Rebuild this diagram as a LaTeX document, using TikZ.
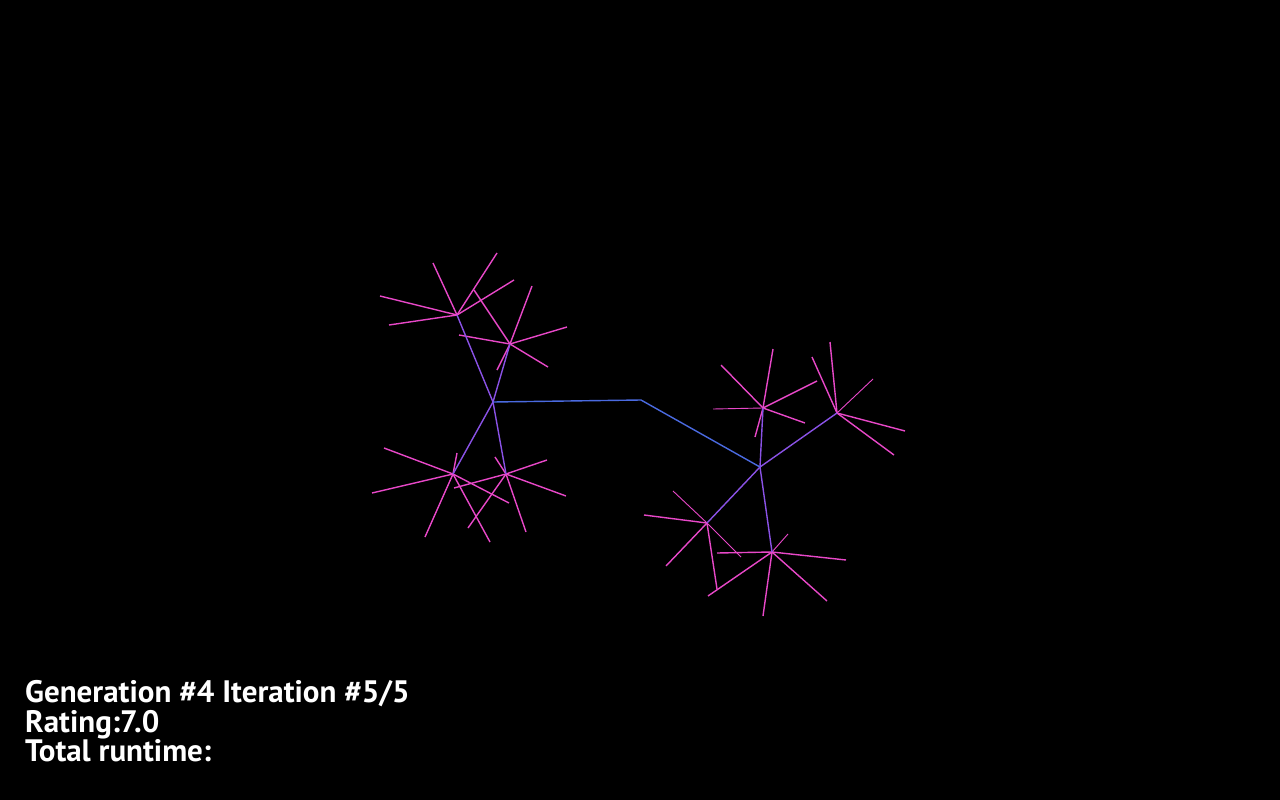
\documentclass[tikz,border=0pt]{standalone}
\usepackage{fontspec}
\setmainfont{PT Sans}
\begin{document}
\begin{tikzpicture}[x=1pt,y=-1pt,
  bridge/.style={draw=bluel,line width=1.4pt},
  branch/.style={draw=purpl,line width=1.4pt},
  leaf/.style={draw=pinkl,line width=1.4pt},
  thinleaf/.style={draw=pinkl,line width=0.9pt},
  info/.style={anchor=base west,text=white,font=\bfseries\fontsize{31}{30}\selectfont,inner sep=0pt}]
\definecolor{bluel}{HTML}{4A6AE0}
\definecolor{purpl}{HTML}{8A52E6}
\definecolor{pinkl}{HTML}{E848C8}
\fill[black] (0,0) rectangle (1280,800);
\useasboundingbox (0,0) rectangle (1280,800);
% hubs
\coordinate (L) at (493,402);
\coordinate (K) at (641,400);
\coordinate (R) at (760,467);
\coordinate (A1) at (457,315);
\coordinate (A2) at (510,344);
\coordinate (A3) at (453,474);
\coordinate (A4) at (506,474);
\coordinate (B1) at (763,408);
\coordinate (B2) at (837,413);
\coordinate (B3) at (707,523);
\coordinate (B4) at (772,552);
% leaves of A1
\foreach \p in {(380,296),(389,325),(433,263),(497,253),(514,280)}
  \draw[leaf] (A1) -- \p;
% leaves of A2
\foreach \p in {(532,286),(567,327),(548,367),(497,370),(459,335),(474,290)}
  \draw[leaf] (A2) -- \p;
% leaves of A3
\foreach \p in {(384,448),(372,493),(457,453),(425,537),(490,542),(509,503)}
  \draw[leaf] (A3) -- \p;
% leaves of A4
\foreach \p in {(547,460),(566,496),(526,532),(468,528),(495,457),(454,488)}
  \draw[leaf] (A4) -- \p;
% leaves of B1
\foreach \p in {(721,365),(773,349),(817,381),(805,423),(755,437)}
  \draw[leaf] (B1) -- \p;
\draw[thinleaf] (B1) -- (713,409);
% leaves of B2
\foreach \p in {(812,357),(830,342),(905,431),(894,455)}
  \draw[leaf] (B2) -- \p;
\draw[thinleaf] (B2) -- (873,379);
% leaves of B3
\foreach \p in {(644,515),(666,566),(717,589)}
  \draw[leaf] (B3) -- \p;
\draw[thinleaf] (B3) -- (673,491);
\draw[thinleaf] (B3) -- (741,557);
% leaves of B4
\foreach \p in {(846,560),(827,601),(763,616),(708,596),(717,553)}
  \draw[leaf] (B4) -- \p;
\draw[thinleaf] (B4) -- (788,534);
% branches
\draw[branch] (L) -- (A1);
\draw[branch] (L) -- (A2);
\draw[branch] (L) -- (A3);
\draw[branch] (L) -- (A4);
\draw[branch] (R) -- (B1);
\draw[branch] (R) -- (B2);
\draw[branch] (R) -- (B3);
\draw[branch] (R) -- (B4);
% bridge
\draw[bridge] (L) -- (K) -- (R);
% text
\node[info] (t1) at (25,702) {Generation \#4 Iteration \#5/5};
\node[info] (t2) at (25,732) {Rating:7.0};
\node[info] (t3) at (25,761) {Total runtime:};
\end{tikzpicture}
\end{document}
